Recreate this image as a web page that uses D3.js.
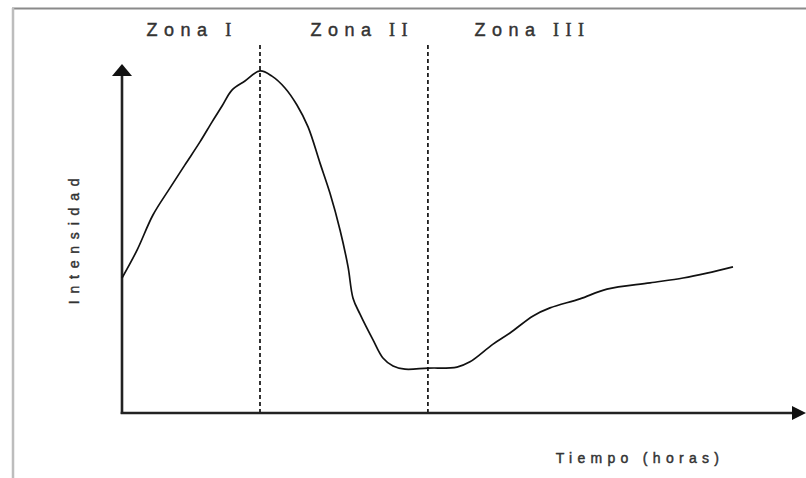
<!DOCTYPE html>
<html>
<head>
<meta charset="utf-8">
<script src="https://cdn.jsdelivr.net/npm/d3@7"></script>
<style>
  html, body { margin: 0; padding: 0; background: #fff; }
  svg { display: block; }
  text { font-family: "Liberation Sans", Arial, sans-serif; fill: #333; stroke: #333; stroke-width: 0.45; }
</style>
</head>
<body>
<script>
// Tiempo (horas) vs intensidad
const tiempo = [0, 0.88, 1.81, 2.81, 3.68, 4.56, 5.26, 5.85, 6.43, 7.19, 8.07,
  8.77, 9.53, 10.23, 10.88, 11.58, 12.16, 12.75, 13.22, 13.51, 13.92, 14.68,
  15.26, 15.85, 16.55, 17.89, 19.59, 20.35, 21.7, 22.69, 24.04, 25.03, 26.78,
  28.36, 30.88, 32.81, 34.21, 35.73]
const intensidad = [38.8, 46.8, 56.9, 64.7, 71.3, 77.9, 83.6, 88.2, 92.8, 95.4, 98.3,
  96.8, 93.4, 88.5, 82.2, 71.8, 63.2, 52.6, 42.0, 33.0, 28.4, 21.0,
  15.8, 13.5, 12.6, 12.9, 13.2, 14.7, 19.8, 23.0, 27.9, 30.2, 32.8,
  35.6, 37.4, 38.8, 40.2, 42.0]

// Límites de zona y sus rótulos
const limites = [8.07, 17.89]
const zonas = [
  { nombre: 'Zona ', num: 'I', t: 4.1 },
  { nombre: 'Zona ', num: 'II', t: 14.05 },
  { nombre: 'Zona ', num: 'III', t: 24.0 },
]

const W = 806, H = 478

const x = d3.scaleLinear().domain([0, 40]).range([122, 806])
const y = d3.scaleLinear().domain([0, 100]).range([413, 65])

const svg = d3.select('body').append('svg')
  .attr('width', W)
  .attr('height', H)

// Marco (solo arriba e izquierda)
svg.append('line')
  .attr('x1', 12).attr('x2', W).attr('y1', 8.5).attr('y2', 8.5)
  .attr('stroke', '#8a8a8a').attr('stroke-width', 2)
svg.append('line')
  .attr('x1', 13).attr('x2', 13).attr('y1', 8).attr('y2', H)
  .attr('stroke', '#bdbdbd').attr('stroke-width', 2.5)

// Límites de zona
svg.selectAll('line.limite')
  .data(limites)
  .enter().append('line')
  .attr('class', 'limite')
  .attr('x1', d => x(d)).attr('x2', d => x(d))
  .attr('y1', 45).attr('y2', y(0))
  .attr('stroke', '#111')
  .attr('stroke-width', 1.7)
  .attr('stroke-dasharray', '4 3')

// Ejes con flecha
const axisColor = '#222'
svg.append('line')
  .attr('x1', x(0)).attr('x2', x(0))
  .attr('y1', y(0) + 1).attr('y2', 74)
  .attr('stroke', axisColor).attr('stroke-width', 2.6)
svg.append('path')
  .attr('d', `M${x(0)},64 L${x(0) + 10},76 L${x(0) - 10},76 Z`)
  .attr('fill', '#111')

svg.append('line')
  .attr('x1', x(0) - 1.3).attr('x2', 795)
  .attr('y1', y(0)).attr('y2', y(0))
  .attr('stroke', axisColor).attr('stroke-width', 2.6)
svg.append('path')
  .attr('d', `M806,${y(0)} L792,${y(0) - 7} L792,${y(0) + 7} Z`)
  .attr('fill', '#111')

// Curva
const puntos = tiempo.map((t, i) => [t, intensidad[i]])
svg.append('path')
  .datum(puntos)
  .attr('fill', 'none')
  .attr('stroke', '#111')
  .attr('stroke-width', 1.7)
  .attr('d', d3.line()
    .x(d => x(d[0]))
    .y(d => y(d[1]))
    .curve(d3.curveCatmullRom.alpha(0.5)))

// Rótulos de zona
const zt = svg.selectAll('text.zona')
  .data(zonas)
  .enter().append('text')
  .attr('class', 'zona')
  .attr('x', d => x(d.t))
  .attr('y', 36)
  .attr('text-anchor', 'middle')
  .attr('font-size', 18)
  .attr('letter-spacing', 6.5)
zt.append('tspan').text(d => d.nombre)
zt.append('tspan')
  .attr('font-family', '"Liberation Serif", serif')
  .text(d => d.num)

// Títulos de ejes
svg.append('text')
  .attr('transform', 'translate(79,238) rotate(-90)')
  .attr('text-anchor', 'middle')
  .attr('font-size', 14)
  .attr('letter-spacing', 6.8)
  .text('Intensidad')

svg.append('text')
  .attr('x', 640)
  .attr('y', 463)
  .attr('text-anchor', 'middle')
  .attr('font-size', 14)
  .attr('letter-spacing', 5.3)
  .text('Tiempo (horas)')
</script>
</body>
</html>
